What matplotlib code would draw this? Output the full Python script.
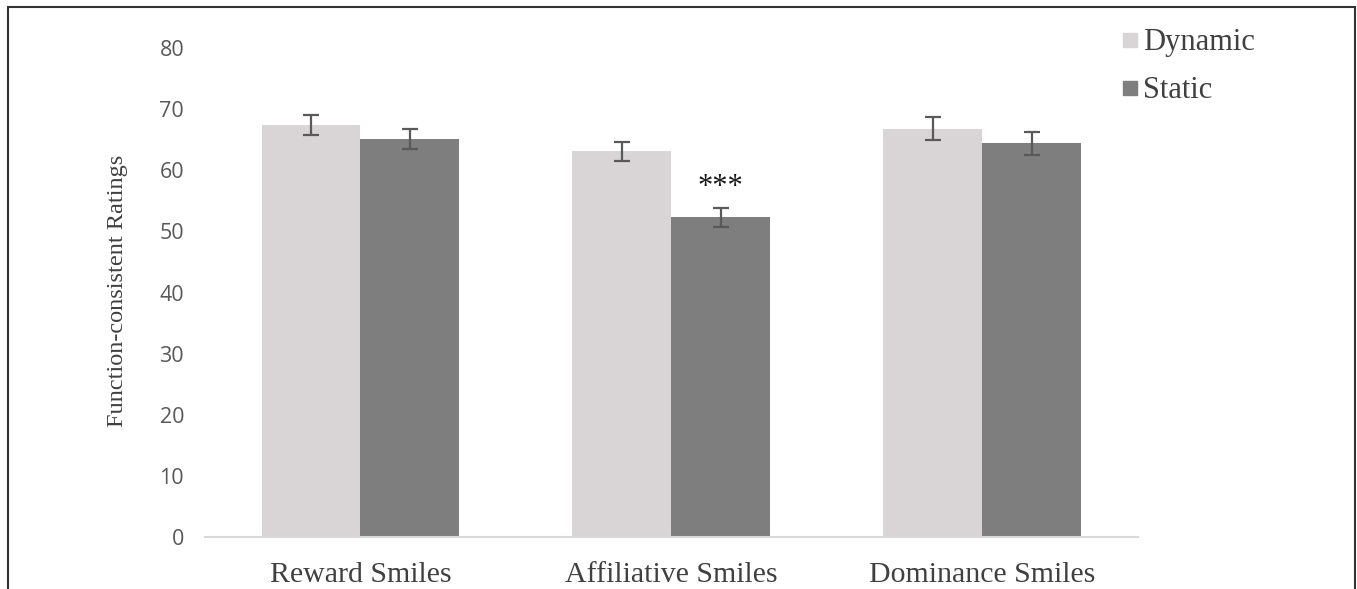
import matplotlib
matplotlib.use("Agg")
import matplotlib.pyplot as plt
import matplotlib.patches as mpatches
from matplotlib.lines import Line2D
import numpy as np

# Mean function-consistent ratings per smile type, with standard errors
categories = ["Reward Smiles", "Affiliative Smiles", "Dominance Smiles"]
dynamic_mean = [67.4, 63.1, 66.8]
dynamic_se = [1.7, 1.6, 1.9]
static_mean = [65.1, 52.3, 64.4]
static_se = [1.7, 1.6, 1.9]
series_names = ["Dynamic", "Static"]
y_ticks = [0, 10, 20, 30, 40, 50, 60, 70, 80]

DYN_COLOR = "#D9D5D6"
STA_COLOR = "#7F7E7F"
ERR_COLOR = "#595959"
TICK_COLOR = "#595959"
TEXT_COLOR = "#404040"
SERIF = ["Liberation Serif", "DejaVu Serif"]
SANS = ["Open Sans", "DejaVu Sans"]

W, H = 1357, 589
fig = plt.figure(figsize=(W / 100, H / 100), dpi=100)
ax = fig.add_axes([205 / W, (H - 537) / H, (1137.5 - 205) / W, (537 - 48) / H])

x = np.arange(len(categories))
bw = 0.318
ax.bar(x - bw / 2, dynamic_mean, bw, color=DYN_COLOR, zorder=2)
ax.bar(x + bw / 2, static_mean, bw, color=STA_COLOR, zorder=2)
ax.errorbar(x - bw / 2, dynamic_mean, yerr=dynamic_se, fmt="none",
            ecolor=ERR_COLOR, elinewidth=1.6, capsize=6, capthick=1.6, zorder=3)
ax.errorbar(x + bw / 2, static_mean, yerr=static_se, fmt="none",
            ecolor=ERR_COLOR, elinewidth=1.6, capsize=6, capthick=1.6, zorder=3)

# significance marker above the affiliative static bar
ax.text(1 + bw / 2, static_mean[1] + static_se[1] + 3.2, "***",
        ha="center", va="center", fontsize=22, color="#1a1a1a", family=SERIF)

ax.set_xlim(-0.5, 2.5)
ax.set_ylim(0, 80)
ax.set_yticks(y_ticks)
ax.set_xticks(x)
ax.set_xticklabels(categories, family=SERIF, fontsize=21.5, color=TEXT_COLOR)
ax.tick_params(axis="x", length=0, pad=18)
ax.tick_params(axis="y", length=0, pad=15, labelsize=15.5, labelcolor=TICK_COLOR)
for lbl in ax.get_yticklabels():
    lbl.set_family(SANS)

for side in ["top", "right", "left"]:
    ax.spines[side].set_visible(False)
ax.spines["bottom"].set_color("#D9D9D9")
ax.spines["bottom"].set_linewidth(1.5)

fig.text(118 / W, (H - 291) / H, "Function-consistent Ratings", rotation=90,
         ha="center", va="center", family=SERIF, fontsize=17.5, color=TEXT_COLOR)

# legend drawn as square markers with serif labels
handles = [Line2D([], [], marker="s", ls="none", markersize=10,
                  markerfacecolor=c, markeredgecolor=c)
           for c in (DYN_COLOR, STA_COLOR)]
leg = fig.legend(handles, series_names, loc="upper left",
                 bbox_to_anchor=(1106 / W, (H - 13) / H), frameon=False,
                 prop={"family": SERIF, "size": 22}, handlelength=0.55,
                 handletextpad=0.15, labelspacing=0.62, borderpad=0)
for t in leg.get_texts():
    t.set_color(TEXT_COLOR)

# outer frame (open at the bottom edge)
fig.add_artist(mpatches.Rectangle((7.5 / W, -0.1), (1355 - 7.5) / W, (H - 7.5) / H + 0.1,
                                  transform=fig.transFigure, fill=False,
                                  edgecolor="#333333", linewidth=1.5))

fig.savefig("out.png", dpi=100)
